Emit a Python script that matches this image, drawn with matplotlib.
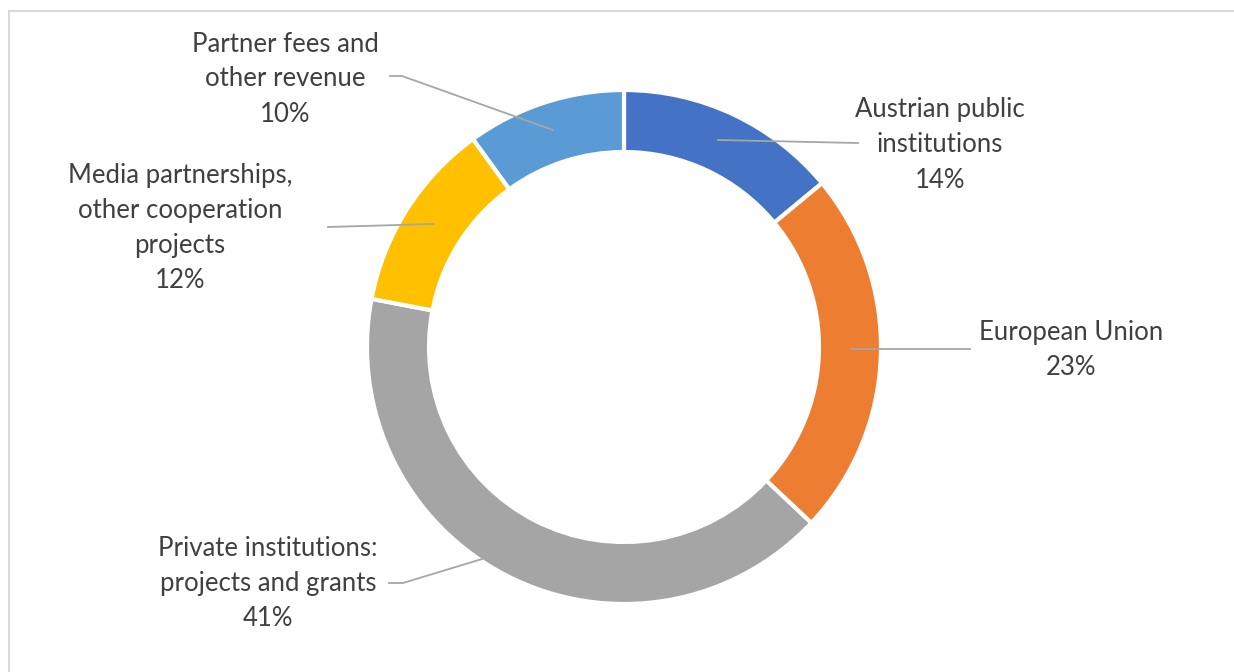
import matplotlib
matplotlib.use("Agg")
import matplotlib.pyplot as plt
from matplotlib.patches import Rectangle

labels = ["Austrian public\ninstitutions", "European Union",
          "Private institutions:\nprojects and grants",
          "Media partnerships,\nother cooperation\nprojects",
          "Partner fees and\nother revenue"]
values = [14, 23, 41, 12, 10]
colors = ["#4472C4", "#ED7D31", "#A5A5A5", "#FFC000", "#5B9BD5"]

W, H = 1234, 672
fig = plt.figure(figsize=(W / 100, H / 100), dpi=100)
ax = fig.add_axes([0, 0, 1, 1])
ax.set_xlim(0, W)
ax.set_ylim(0, H)
ax.set_aspect("equal")
ax.axis("off")

def Y(y):
    return H - y

# frame
ax.add_patch(Rectangle((9, Y(700)), 1300, 700 - 11, fill=False,
                       edgecolor="#D9D9D9", linewidth=1.5, zorder=0))

cx, cy, R = 624, 347, 257
ax.pie(values, colors=colors, startangle=90, counterclock=False,
       center=(cx, Y(cy)), radius=R, frame=True,
       wedgeprops=dict(width=62, edgecolor="white", linewidth=3))
ax.set_xlim(0, W)
ax.set_ylim(0, H)
ax.axis("off")

# leader lines (pixel coordinates from top)
leaders = [
    [(718, 140), (858, 143)],
    [(850, 349), (970, 349)],
    [(482, 559), (403, 583), (389, 583)],
    [(433, 224), (328, 227)],
    [(553, 130), (402, 76), (390, 76)],
]
for pts in leaders:
    xs = [p[0] for p in pts]
    ys = [Y(p[1]) for p in pts]
    ax.plot(xs, ys, color="#A6A6A6", linewidth=1.3, zorder=3)

label_pos = [(940, 145), (1071, 350), (268, 584), (180, 228), (285, 79)]
for lab, v, (x, y) in zip(labels, values, label_pos):
    ax.text(x, Y(y), f"{lab}\n{v}%", ha="center", va="center",
            fontsize=18.5, family="Lato", color="#404040", linespacing=1.5,
            zorder=4)

fig.savefig("out.png", dpi=100)
